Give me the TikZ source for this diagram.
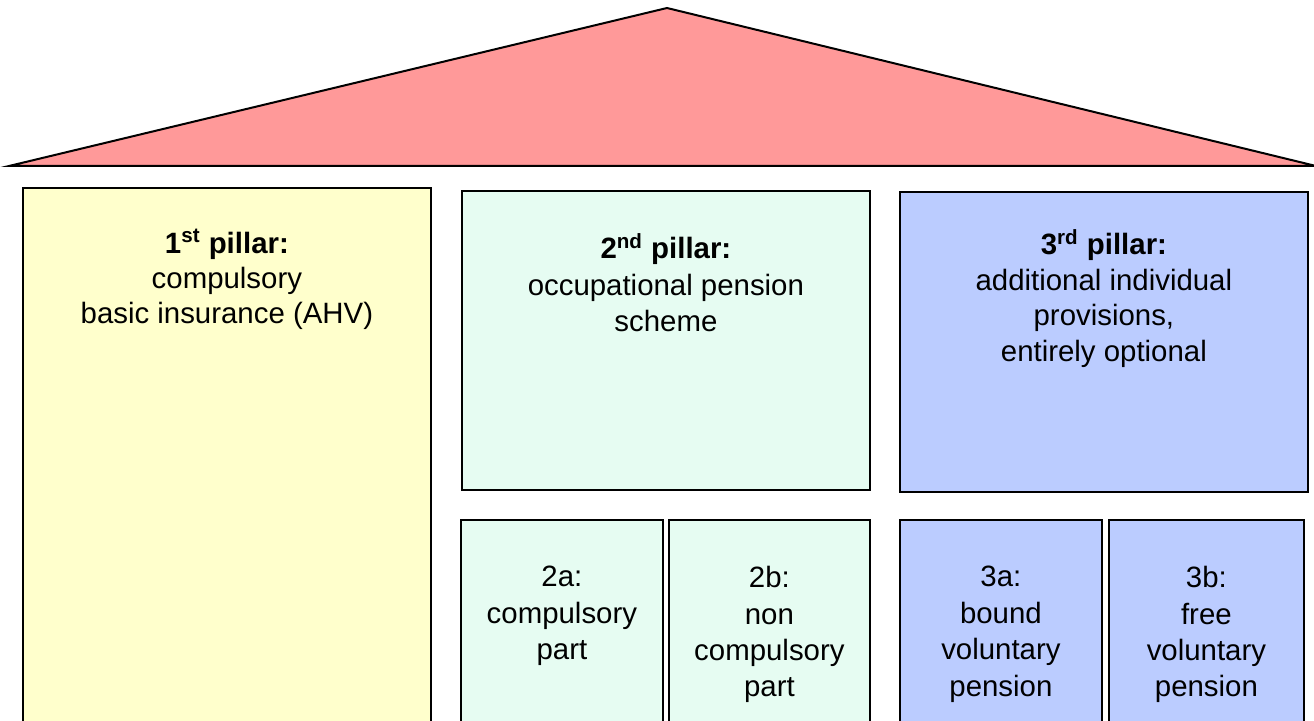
\documentclass[tikz,border=0pt]{standalone}
\usepackage{fontspec}
\setmainfont{Liberation Sans}

\definecolor{roofred}{HTML}{FF9999}
\definecolor{pillarone}{HTML}{FFFFCC}
\definecolor{pillartwo}{HTML}{E6FCF2}
\definecolor{pillarthree}{HTML}{BBCCFF}

\tikzset{
  pillar/.style={draw=black, line width=0.9pt, inner sep=0pt, anchor=north west},
  caption/.style={anchor=north, align=center, inner sep=0pt,
    font=\fontsize{14.7}{18.2}\selectfont},
}

\begin{document}
\begin{tikzpicture}[x=0.5pt, y=-0.5pt]
        \useasboundingbox (0,0) rectangle (1314,721);
        \clip (0,0) rectangle (1314,721);
        % roof
        \coordinate (eaveL) at (9,166);
        \coordinate (ridge) at (667,8);
        \coordinate (eaveR) at (1316,166);
        \filldraw[fill=roofred, draw=black, line width=1pt, line join=miter] (eaveL) -- (ridge) -- (eaveR) -- cycle;
        \draw[line width=1.4pt] (eaveL) -- (eaveR);
        % first pillar
        \node[pillar, fill=pillarone, minimum width=204pt, minimum height=280pt] (p1) at (22,187) {};
        \node[caption, font=\fontsize{14.7}{17.5}\selectfont] (t1) at ([yshift=-21pt]p1.north) {\textbf{1\textsuperscript{st} pillar:}\\compulsory\\basic insurance (AHV)};
        % second pillar
        \node[pillar, fill=pillartwo, minimum width=204pt, minimum height=149.5pt] (p2) at (461,190) {};
        \node[caption] (t2) at ([yshift=-21.5pt]p2.north) {\textbf{2\textsuperscript{nd} pillar:}\\occupational pension\\scheme};
        % third pillar
        \node[pillar, fill=pillarthree, minimum width=204pt, minimum height=150pt] (p3) at (899,191) {};
        \node[caption, font=\fontsize{14.7}{17.8}\selectfont] (t3) at ([yshift=-19pt]p3.north) {\textbf{3\textsuperscript{rd} pillar:}\\additional individual\\provisions,\\entirely optional};
        % sub-pillars
        \node[pillar, fill=pillartwo, minimum width=101pt, minimum height=112pt] (p2a) at (460,519) {};
        \node[pillar, fill=pillartwo, minimum width=100.5pt, minimum height=112pt] (p2b) at (668,519) {};
        \node[pillar, fill=pillarthree, minimum width=101pt, minimum height=112pt] (p3a) at (899,519) {};
        \node[pillar, fill=pillarthree, minimum width=97.5pt, minimum height=112pt] (p3b) at (1108,519) {};
        \node[caption] (t2a) at ([yshift=-23.5pt]p2a.north) {2a:\\compulsory\\part};
        \node[caption] (t2b) at ([yshift=-23.5pt]p2b.north) {2b:\\non\\compulsory\\part};
        \node[caption] (t3a) at ([yshift=-23.5pt]p3a.north) {3a:\\bound\\voluntary\\pension};
        \node[caption] (t3b) at ([yshift=-23.5pt]p3b.north) {3b:\\free\\voluntary\\pension};
\end{tikzpicture}
\end{document}
